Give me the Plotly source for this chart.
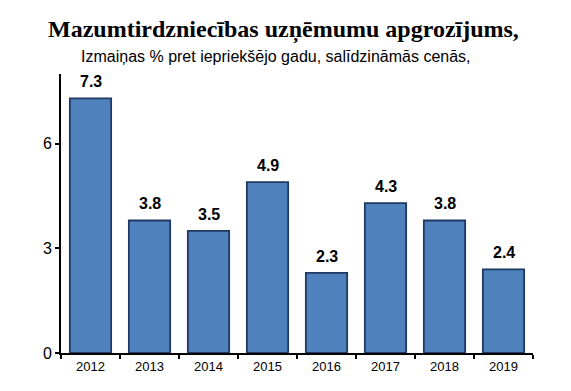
import plotly.graph_objects as go

years = ["2012", "2013", "2014", "2015", "2016", "2017", "2018", "2019"]
values = [7.3, 3.8, 3.5, 4.9, 2.3, 4.3, 3.8, 2.4]
labels = ["7.3", "3.8", "3.5", "4.9", "2.3", "4.3", "3.8", "2.4"]
y_ticks = [0, 3, 6]

# page body has an 8px default margin, so the figure is placed at (8, 8)
W, H = 563, 383
L, R, T, B = 53, 38, 66, 38
plot_w = W - L - R
plot_h = H - T - B

fig = go.Figure()
fig.add_trace(go.Bar(
    x=years, y=values,
    marker=dict(color="#4F81BD", line=dict(color="#1F3864", width=1.8)),
    width=0.7,
))
for i, (v, lab) in enumerate(zip(values, labels)):
    fig.add_annotation(
        x=i, y=v, xref="x", yref="y", text="<b>%s</b>" % lab,
        showarrow=False, yanchor="bottom", yshift=6,
        font=dict(family="Liberation Sans, Arial", size=16, color="black"),
    )
fig.update_layout(
    width=W, height=H,
    margin=dict(l=L, r=R, t=T, b=B, autoexpand=False),
    plot_bgcolor="white", paper_bgcolor="white",
    showlegend=False,
    font=dict(family="Liberation Sans, Arial", color="black"),
)
fig.update_xaxes(
    type="category", categoryorder="array", categoryarray=years,
    range=[-0.5, len(years) - 0.5],
    showline=True, linecolor="black", linewidth=2, automargin=False,
    ticks="outside", tickson="boundaries", ticklen=4, tickcolor="black", tickwidth=2,
    tickfont=dict(size=13), showgrid=False,
)
fig.update_yaxes(
    range=[0, 8], tickvals=y_ticks, showline=True, linecolor="black", linewidth=2,
    automargin=False,
    ticks="outside", ticklen=4, tickcolor="black", tickwidth=2,
    tickfont=dict(size=16), showgrid=False, zeroline=False,
)
fig.add_annotation(
    text="<b>Mazumtirdzniecības uzņēmumu apgrozījums,</b>",
    x=(283 - 8 - L) / plot_w, xref="paper", xanchor="center",
    y=(H - B - (30 - 8)) / plot_h, yref="paper", yanchor="middle", showarrow=False,
    font=dict(family="Liberation Serif, Times New Roman", size=24, color="black"),
)
fig.add_annotation(
    text="Izmaiņas % pret iepriekšējo gadu, salīdzināmās cenās,",
    x=(276 - 8 - L) / plot_w, xref="paper", xanchor="center",
    y=(H - B - (56 - 8)) / plot_h, yref="paper", yanchor="middle", showarrow=False,
    font=dict(family="Liberation Sans, Arial", size=16, color="black"),
)
fig.write_html("out.html")
